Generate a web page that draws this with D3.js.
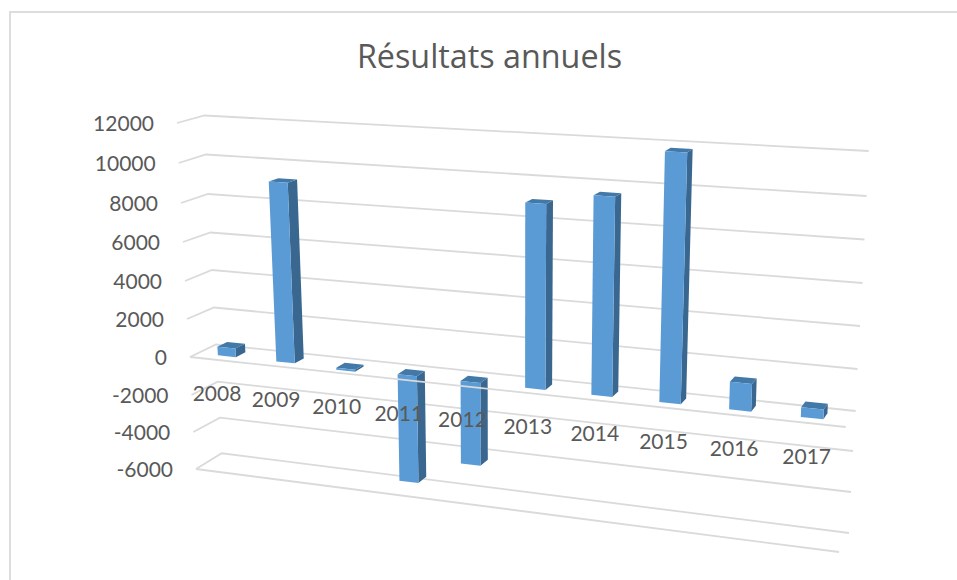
<!DOCTYPE html>
<html>
<head>
<meta charset="utf-8">
<script src="https://cdn.jsdelivr.net/npm/d3@7"></script>
<style>
html,body{margin:0;padding:0;background:#fff}
svg{display:block}
text{font-family:Lato,"Open Sans",sans-serif;fill:#595959}
</style>
</head>
<body>
<svg id="chart" width="957" height="580"></svg>
<script>
const title = "Résultats annuels";
const categories = ["2008","2009","2010","2011","2012","2013","2014","2015","2016","2017"];
const values = [450, 9200, -100, -5550, -4250, 9000, 9550, 11800, 1300, 450];
const yTicks = [12000,10000,8000,6000,4000,2000,0,-2000,-4000,-6000];

// Perspective frame of the 3D plot, as scales over the value axis
const frontLeftX  = d3.scaleLinear().domain(yTicks).range([177,178.7,181,183,185,187,190,191.5,193.3,196]);
const frontLeftY  = d3.scaleLinear().domain(yTicks).range([123,163,203,242,281,319,357,395,432,469]);
const backLeftX   = d3.scaleLinear().domain(yTicks).range([204.5,206,208,210.5,212,214,216,217.7,220,221.7]);
const backLeftY   = d3.scaleLinear().domain(yTicks).range([115.5,154.5,194,232.5,270,307.5,344.5,381.7,417.7,453.3]);
const backRightX  = d3.scaleLinear().domain(yTicks).range([868.7,866.5,864.5,862.5,860,857.5,855.7,853,851,849]);
const backRightY  = d3.scaleLinear().domain(yTicks).range([151,196,239.5,283,326,369,411,451,492,533]);
const frontRightX = d3.scaleLinear().domain([12000,0,-6000]).range([859,845.7,839]);
const frontRightY = d3.scaleLinear().domain([12000,0,-6000]).range([161,427,552]);

// Category position along the axis, with perspective foreshortening
const band = d3.scaleBand().domain(categories).range([0,1]).paddingInner(0.69).paddingOuter(0.345);
const foreshorten = 0.88;
const along = u => foreshorten*u/(1+(foreshorten-1)*u);

const lerp = d3.interpolateNumber;
function project(u,d,v){
  const t = along(u);
  const lx = lerp(frontLeftX(v),backLeftX(v))(d), ly = lerp(frontLeftY(v),backLeftY(v))(d);
  const rx = lerp(frontRightX(v),backRightX(v))(d), ry = lerp(frontRightY(v),backRightY(v))(d);
  return [lerp(lx,rx)(t), lerp(ly,ry)(t)];
}

const svg = d3.select("#chart");
const line = d3.line();

// Outer chart frame: left and top edges only
svg.append("path").attr("d", line([[10,580],[10,12],[957,12]]))
   .attr("fill","none").attr("stroke","#DDDDDD").attr("stroke-width",2);

svg.append("text").attr("x",489.5).attr("y",68).attr("text-anchor","middle")
   .style("font-family","'Open Sans'")
   .attr("font-size",32.3).text(title);

// Gridlines: left wall + back wall
const grid = svg.append("g").attr("fill","none").attr("stroke","#DADADA").attr("stroke-width",1.8);
yTicks.forEach(v=>{
  grid.append("path").attr("d", line([
    [frontLeftX(v),frontLeftY(v)],[backLeftX(v),backLeftY(v)],[backRightX(v),backRightY(v)]]));
});
// Floor front edge at the axis minimum
const vMin = d3.min(yTicks);
grid.append("path").attr("d", line([[frontLeftX(vMin),frontLeftY(vMin)],[frontRightX(vMin),frontRightY(vMin)]]));

// Bars
const dFront = 0.31, dBack = 0.69;
const bars = svg.append("g");
categories.forEach((c,i)=>{
  const u0 = band(c), u1 = u0+band.bandwidth();
  const hi = Math.max(values[i],0), lo = Math.min(values[i],0);
  const g = bars.append("g");
  g.append("path").attr("fill","#3A6790").attr("d", line([
    project(u1,dFront,hi),project(u1,dBack,hi),project(u1,dBack,lo),project(u1,dFront,lo)]));
  g.append("path").attr("fill","#4379A8").attr("d", line([
    project(u0,dFront,hi),project(u1,dFront,hi),project(u1,dBack,hi),project(u0,dBack,hi)]));
  g.append("path").attr("fill","#5B9BD5").attr("d", line([
    project(u0,dFront,hi),project(u1,dFront,hi),project(u1,dFront,lo),project(u0,dFront,lo)]));
});

// Category axis line at zero in front of the bars
svg.append("path").attr("fill","none").attr("stroke","#DADADA").attr("stroke-width",1.8)
   .attr("d", line([project(0,0,0),project(1,0,0)]));

// Value labels
svg.append("g").selectAll("text").data(yTicks).join("text")
   .attr("x",v=>frontLeftX(v)-23).attr("y",v=>frontLeftY(v)+8)
   .attr("text-anchor","end").attr("font-size",21).text(v=>v);

// Category labels
svg.append("g").selectAll("text").data(categories).join("text")
   .attr("x",c=>project(band(c)+band.bandwidth()/2,0,0)[0]-2)
   .attr("y",c=>project(band(c)+band.bandwidth()/2,0,0)[1]+41)
   .attr("text-anchor","middle").attr("font-size",21).text(c=>c);
</script>
</body>
</html>
